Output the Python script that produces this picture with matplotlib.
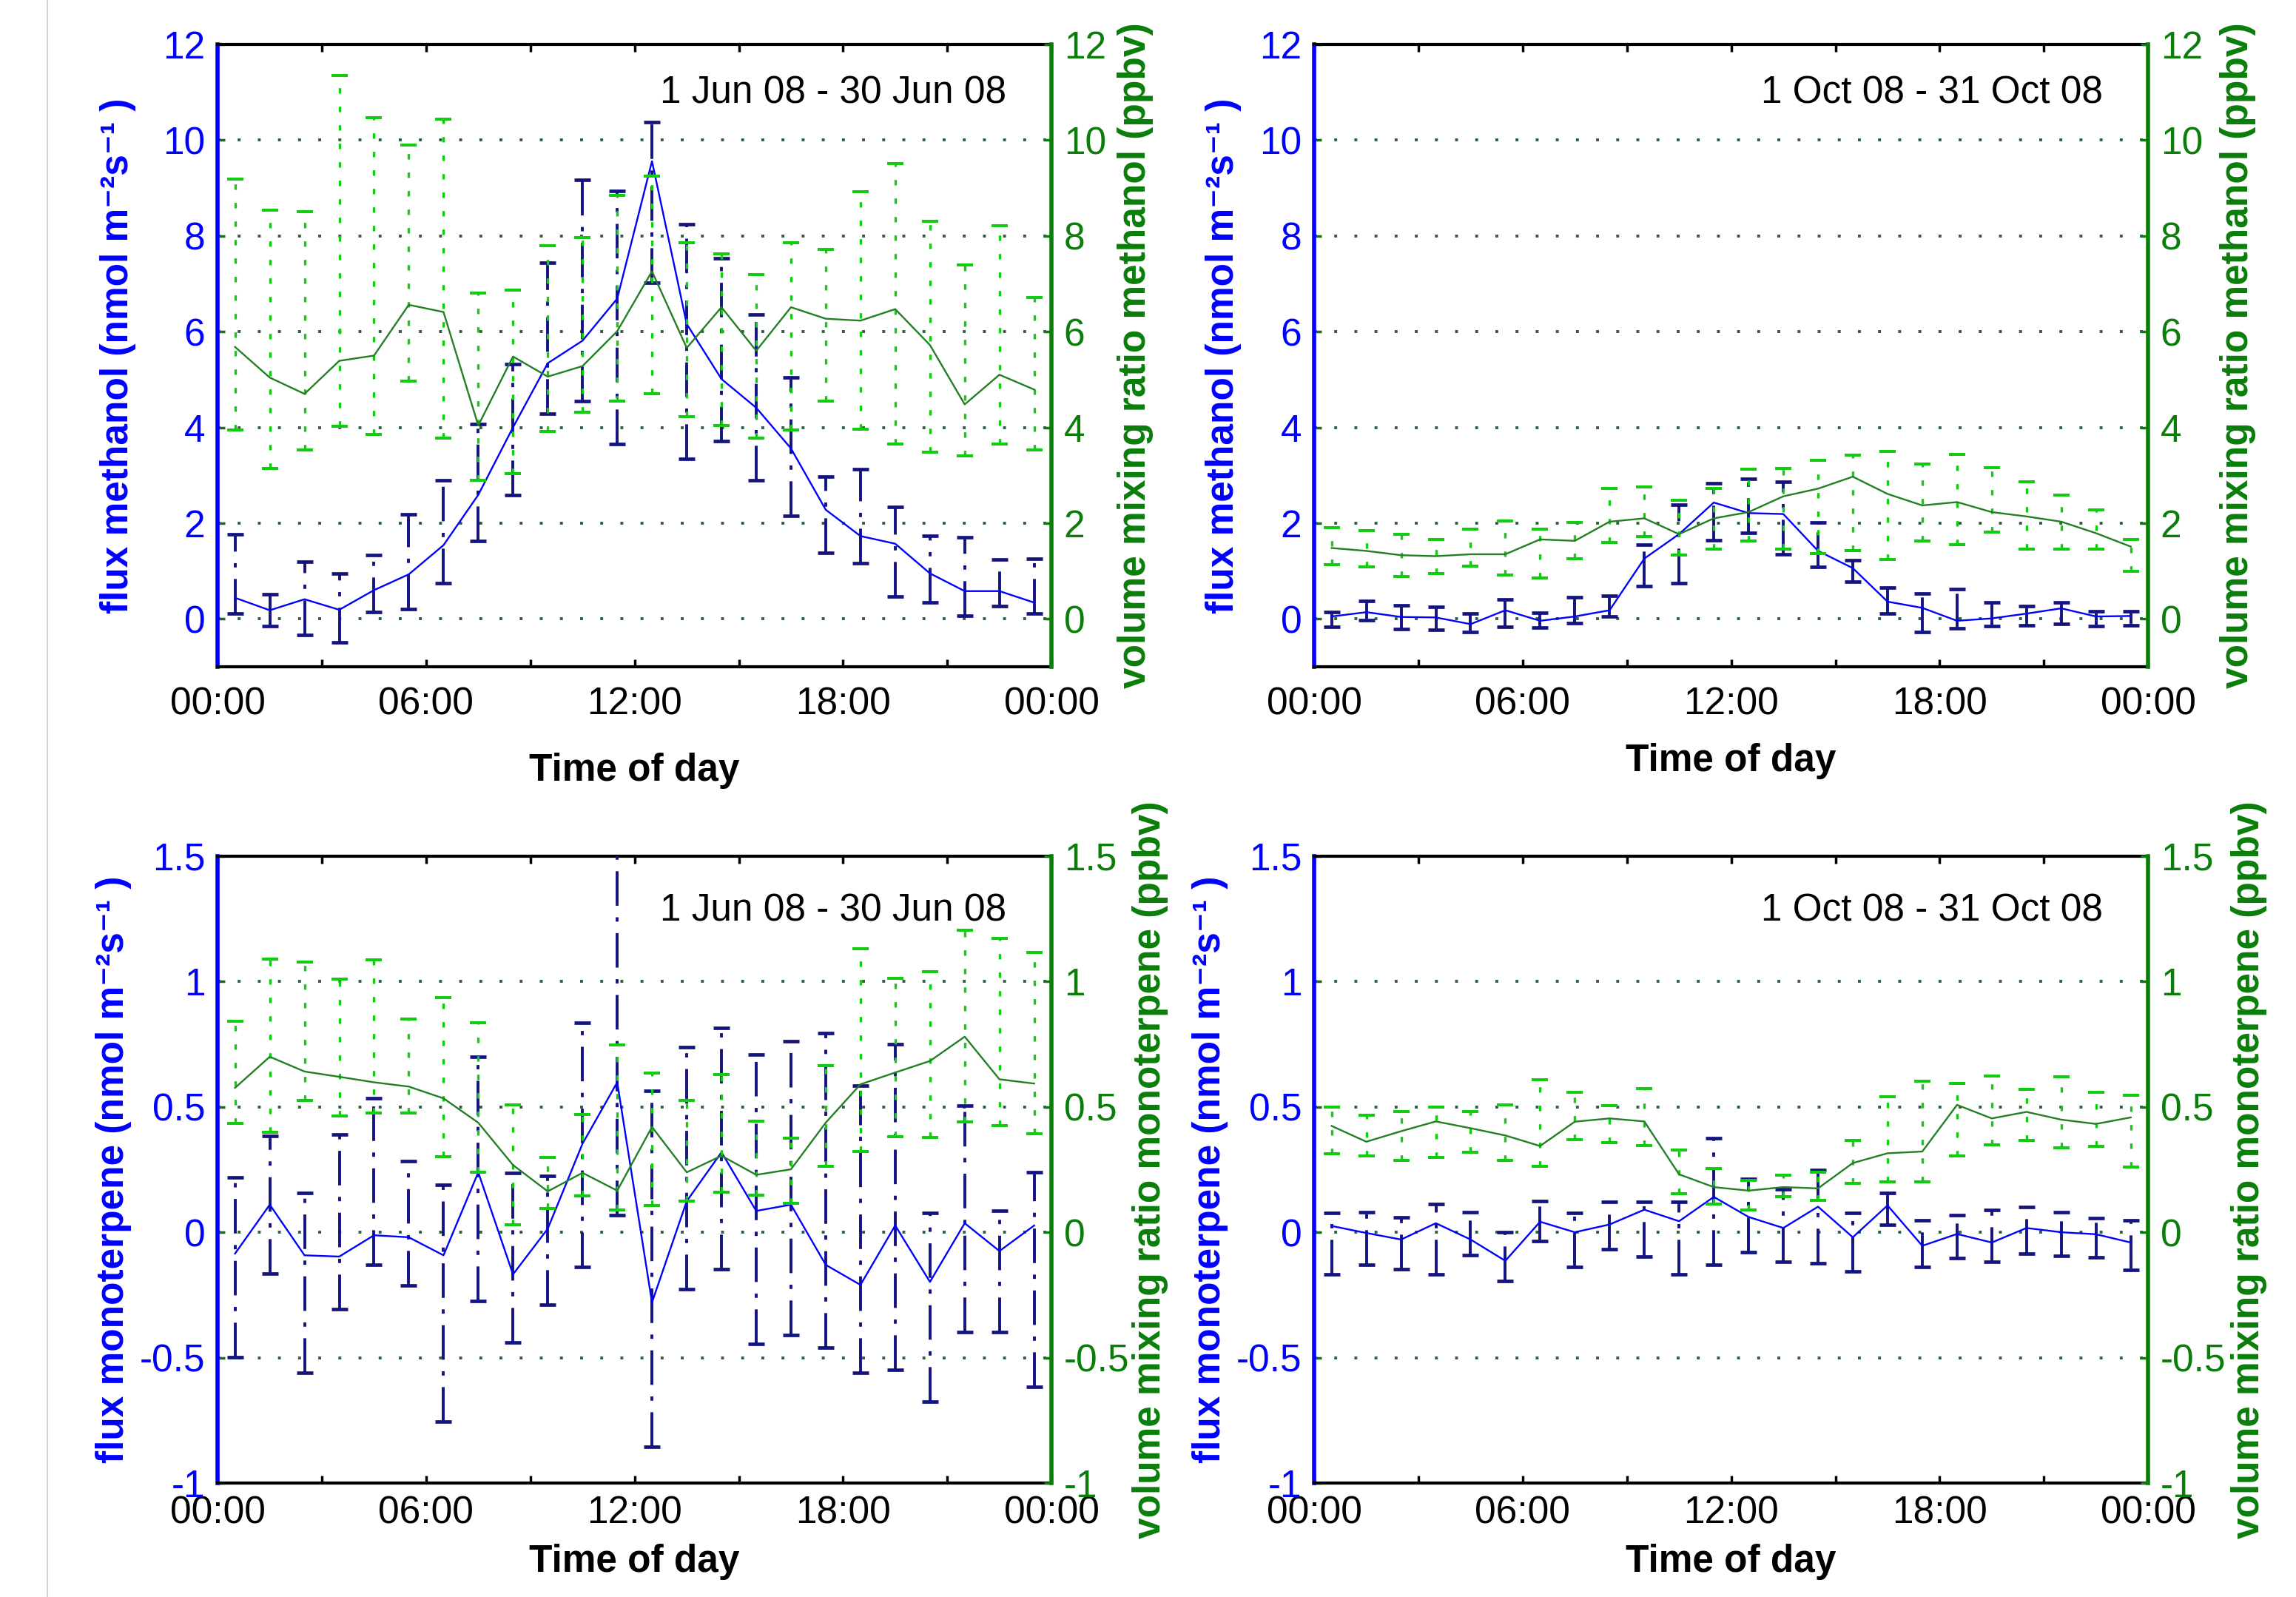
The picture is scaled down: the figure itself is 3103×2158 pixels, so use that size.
import numpy as np
import matplotlib
matplotlib.use("Agg")
import matplotlib.pyplot as plt
from matplotlib.lines import Line2D

plt.rcParams['font.family'] = ['Liberation Sans', 'DejaVu Sans']
plt.rcParams['axes.unicode_minus'] = False

# hour of day (bin centres)
hours = np.arange(24) + 0.5

# ---- methanol, June ----
flux_jun = [0.44, 0.18, 0.41, 0.19, 0.60, 0.93, 1.54, 2.59, 4.00, 5.34, 5.81, 6.69,
            9.56, 6.16, 5.01, 4.41, 3.56, 2.28, 1.73, 1.57, 0.95, 0.58, 0.58, 0.34]
flux_jun_hi = [1.77, 0.51, 1.20, 0.94, 1.33, 2.19, 2.89, 4.07, 5.32, 7.44, 9.17, 8.94,
               10.37, 8.25, 7.53, 6.36, 5.04, 2.97, 3.12, 2.34, 1.73, 1.70, 1.24, 1.26]
flux_jun_lo = [0.11, -0.15, -0.33, -0.49, 0.15, 0.20, 0.75, 1.62, 2.59, 4.29, 4.55, 3.65,
               7.02, 3.34, 3.72, 2.89, 2.16, 1.38, 1.17, 0.47, 0.34, 0.07, 0.27, 0.11]
vmr_jun = [5.68, 5.04, 4.70, 5.39, 5.50, 6.56, 6.41, 4.04, 5.48, 5.06, 5.28, 6.01,
           7.26, 5.66, 6.51, 5.60, 6.51, 6.27, 6.23, 6.47, 5.72, 4.48, 5.10, 4.79]
vmr_jun_hi = [9.18, 8.54, 8.50, 11.35, 10.47, 9.89, 10.44, 6.80, 6.87, 7.79, 7.97, 8.85,
              9.25, 7.86, 7.62, 7.19, 7.86, 7.72, 8.92, 9.51, 8.30, 7.40, 8.22, 6.72]
vmr_jun_lo = [3.95, 3.14, 3.53, 4.02, 3.85, 4.97, 3.78, 2.89, 3.03, 3.91, 4.32, 4.55,
              4.70, 4.22, 4.04, 3.78, 3.95, 4.55, 3.96, 3.66, 3.49, 3.40, 3.65, 3.53]

# ---- methanol, October ----
flux_oct = [0.05, 0.14, 0.04, 0.03, -0.11, 0.18, -0.04, 0.05, 0.18, 1.26, 1.77, 2.43,
            2.21, 2.19, 1.42, 1.06, 0.36, 0.23, -0.04, 0.01, 0.11, 0.22, 0.05, 0.06]
flux_oct_hi = [0.14, 0.38, 0.29, 0.25, 0.11, 0.40, 0.13, 0.45, 0.49, 1.55, 2.38, 2.83,
               2.92, 2.87, 2.01, 1.22, 0.66, 0.53, 0.63, 0.34, 0.27, 0.34, 0.16, 0.16]
flux_oct_lo = [-0.17, -0.02, -0.21, -0.22, -0.28, -0.17, -0.18, -0.09, 0.05, 0.69, 0.75, 1.64,
               1.79, 1.35, 1.09, 0.78, 0.11, -0.28, -0.19, -0.15, -0.13, -0.11, -0.15, -0.13]
vmr_oct = [1.48, 1.42, 1.33, 1.31, 1.35, 1.35, 1.66, 1.63, 2.03, 2.10, 1.77, 2.10,
           2.23, 2.56, 2.72, 2.97, 2.61, 2.37, 2.44, 2.23, 2.14, 2.03, 1.79, 1.51]
vmr_oct_hi = [1.90, 1.85, 1.77, 1.66, 1.88, 2.04, 1.88, 2.01, 2.72, 2.76, 2.48, 2.72,
              3.12, 3.14, 3.32, 3.42, 3.50, 3.23, 3.44, 3.16, 2.87, 2.59, 2.28, 1.66]
vmr_oct_lo = [1.13, 1.09, 0.89, 0.94, 1.10, 0.91, 0.85, 1.26, 1.59, 1.72, 1.33, 1.46,
              1.62, 1.46, 1.37, 1.42, 1.24, 1.63, 1.55, 1.81, 1.46, 1.46, 1.46, 1.00]

# ---- monoterpene, June ----
flux_mt_jun = [-0.085, 0.11, -0.092, -0.097, -0.012, -0.02, -0.092, 0.239, -0.168, 0.014, 0.353, 0.598,
               -0.28, 0.124, 0.319, 0.085, 0.11, -0.13, -0.21, 0.027, -0.198, 0.036, -0.075, 0.027]
flux_mt_jun_hi = [0.22, 0.383, 0.158, 0.39, 0.536, 0.285, 0.19, 0.70, 0.237, 0.225, 0.836, 1.60,
                  0.564, 0.739, 0.815, 0.708, 0.763, 0.793, 0.586, 0.751, 0.078, 0.505, 0.085, 0.239]
flux_mt_jun_lo = [-0.498, -0.164, -0.559, -0.308, -0.13, -0.212, -0.754, -0.275, -0.44, -0.288, -0.139, 0.068,
                  -0.856, -0.227, -0.147, -0.444, -0.41, -0.461, -0.559, -0.549, -0.676, -0.398, -0.398, -0.617]
vmr_mt_jun = [0.576, 0.70, 0.641, 0.62, 0.598, 0.581, 0.534, 0.437, 0.268, 0.163, 0.237, 0.166,
              0.42, 0.239, 0.305, 0.229, 0.251, 0.437, 0.59, 0.637, 0.683, 0.78, 0.61, 0.593]
vmr_mt_jun_hi = [0.841, 1.09, 1.078, 1.01, 1.086, 0.849, 0.937, 0.836, 0.508, 0.298, 0.471, 0.747,
                 0.636, 0.527, 0.629, 0.442, 0.375, 0.663, 1.132, 1.014, 1.039, 1.205, 1.171, 1.115]
vmr_mt_jun_lo = [0.434, 0.40, 0.525, 0.463, 0.475, 0.476, 0.302, 0.239, 0.03, 0.095, 0.146, 0.09,
                 0.107, 0.124, 0.161, 0.149, 0.115, 0.264, 0.322, 0.381, 0.378, 0.441, 0.424, 0.392]

# ---- monoterpene, October ----
flux_mt_oct = [0.025, -0.003, -0.029, 0.036, -0.029, -0.114, 0.042, 0.0, 0.031, 0.09, 0.044, 0.141,
               0.061, 0.017, 0.102, -0.02, 0.107, -0.054, -0.007, -0.041, 0.017, 0.0, -0.008, -0.041]
flux_mt_oct_hi = [0.076, 0.081, 0.059, 0.112, 0.081, 0.0, 0.124, 0.076, 0.12, 0.12, 0.12, 0.375,
                  0.212, 0.171, 0.247, 0.076, 0.158, 0.047, 0.069, 0.09, 0.102, 0.081, 0.056, 0.047]
flux_mt_oct_lo = [-0.168, -0.13, -0.147, -0.169, -0.092, -0.193, -0.034, -0.139, -0.068, -0.097, -0.168, -0.13,
                  -0.08, -0.117, -0.125, -0.156, 0.031, -0.139, -0.102, -0.119, -0.085, -0.093, -0.1, -0.151]
vmr_mt_oct = [0.424, 0.361, 0.403, 0.442, 0.415, 0.386, 0.344, 0.441, 0.454, 0.442, 0.231, 0.18,
              0.166, 0.18, 0.175, 0.276, 0.315, 0.322, 0.508, 0.454, 0.48, 0.449, 0.432, 0.458]
vmr_mt_oct_hi = [0.5, 0.468, 0.48, 0.5, 0.48, 0.508, 0.607, 0.559, 0.505, 0.573, 0.327, 0.254,
                 0.208, 0.229, 0.239, 0.366, 0.539, 0.603, 0.593, 0.624, 0.569, 0.619, 0.559, 0.547]
vmr_mt_oct_lo = [0.314, 0.305, 0.288, 0.298, 0.319, 0.288, 0.263, 0.369, 0.356, 0.347, 0.153, 0.112,
                 0.09, 0.141, 0.127, 0.195, 0.2, 0.2, 0.305, 0.349, 0.366, 0.336, 0.344, 0.259]

xtick_pos = list(range(0, 25, 3))
xtick_lab = ['00:00', '', '06:00', '', '12:00', '', '18:00', '', '00:00']
meth_ticks = [0, 2, 4, 6, 8, 10, 12]
meth_labels = ['0', '2', '4', '6', '8', '10', '12']
mt_ticks = [-1, -0.5, 0, 0.5, 1, 1.5]
mt_labels = ['-1', '-0.5', '0', '0.5', '1', '1.5']

FS = 37
BLUE = '#0000ff'
NAVY = '#141480'
DKGREEN = '#0a7d0a'
LINEGREEN = '#237f23'
BRGREEN = '#11cc11'
GRIDC = '#2f5f3f'


def asym(mean, lo, hi):
    m = np.array(mean)
    return [np.clip(m - np.array(lo), 0, None), np.clip(np.array(hi) - m, 0, None)]


def panel(rect, flux, flo, fhi, vmr, vlo, vhi, ylim, ticks, tlabels, period,
          flabel, vlabel, lx, rx, xl_y, xpad, ty):
    ax = fig.add_axes(rect)
    ax2 = ax.twinx()
    for a in (ax, ax2):
        a.set_xlim(0, 24)
        a.set_ylim(*ylim)

    ax.set_axisbelow(True)
    ax.yaxis.grid(True, linestyle=(0, (1, 6)), color=GRIDC, linewidth=2.8)

    # flux: navy dash-dot error bars + blue mean line
    eb = ax.errorbar(hours, flux, yerr=asym(flux, flo, fhi), fmt='none', ecolor=NAVY,
                     elinewidth=2.8, capsize=8, capthick=3.4, zorder=3)
    eb[2][0].set_linestyle((0, (12, 4, 1.5, 4)))
    ax.plot(hours, flux, color=BLUE, lw=1.7, zorder=4)

    # mixing ratio: bright green dotted error bars + dark green mean line
    eb2 = ax2.errorbar(hours, vmr, yerr=asym(vmr, vlo, vhi), fmt='none', ecolor=BRGREEN,
                       elinewidth=2.4, capsize=8, capthick=2.9, zorder=3)
    eb2[2][0].set_linestyle((0, (2.2, 5.3)))
    ax2.plot(hours, vmr, color=LINEGREEN, lw=1.7, zorder=4)

    ax.set_xticks(xtick_pos)
    ax.set_xticklabels(xtick_lab)
    ax.tick_params(axis='x', direction='in', top=True, bottom=True, length=7, width=2.5,
                   color='black', labelsize=FS, pad=xpad)
    ax.set_yticks(ticks)
    ax.set_yticklabels(tlabels)
    ax.tick_params(axis='y', direction='in', length=7, width=2.5, color='#1e6b1e',
                   labelcolor=BLUE, labelsize=FS, pad=12)
    ax2.set_yticks(ticks)
    ax2.set_yticklabels(tlabels)
    ax2.tick_params(axis='y', direction='in', length=7, width=2.5, color=DKGREEN,
                    labelcolor=DKGREEN, labelsize=FS, pad=12)

    for s in ('top', 'bottom'):
        ax.spines[s].set_linewidth(3)
        ax.spines[s].set_color('black')
        ax2.spines[s].set_visible(False)
    ax.spines['right'].set_visible(False)
    ax2.spines['left'].set_visible(False)
    ax.spines['left'].set_color(BLUE)
    ax.spines['left'].set_linewidth(4)
    ax2.spines['right'].set_color(DKGREEN)
    ax2.spines['right'].set_linewidth(4)

    ax.set_ylabel(flabel, color=BLUE, fontsize=FS, fontweight='bold')
    ax.yaxis.set_label_coords(lx, 0.5)
    ax2.set_ylabel(vlabel, color=DKGREEN, fontsize=FS, fontweight='bold')
    ax2.yaxis.set_label_coords(rx, 0.5)
    ax.set_xlabel('Time of day', fontsize=FS, fontweight='bold')
    ax.xaxis.set_label_coords(0.5, xl_y)

    ax2.text(0.946, ty, period, transform=ax.transAxes, ha='right', va='center',
             fontsize=FS, color='black')
    return ax, ax2


fig = plt.figure(figsize=(31.03, 21.58), dpi=100)

lab_meth = 'flux methanol (nmol m\u207b\u00b2s\u207b\u00b9 )'
lab_meth_v = 'volume mixing ratio methanol (ppbv)'
lab_mt = 'flux monoterpene (nmol m\u207b\u00b2s\u207b\u00b9 )'
lab_mt_v = 'volume mixing ratio monoterpene (ppbv)'

panel([0.0948, 0.5825, 0.3632, 0.3897], flux_jun, flux_jun_lo, flux_jun_hi,
      vmr_jun, vmr_jun_lo, vmr_jun_hi, (-1, 12), meth_ticks, meth_labels,
      '1 Jun 08 - 30 Jun 08', lab_meth, lab_meth_v, -0.098, 1.079, -0.138, 19, 0.922)
panel([0.5724, 0.5825, 0.3632, 0.3897], flux_oct, flux_oct_lo, flux_oct_hi,
      vmr_oct, vmr_oct_lo, vmr_oct_hi, (-1, 12), meth_ticks, meth_labels,
      '1 Oct 08 - 31 Oct 08', lab_meth, lab_meth_v, -0.087, 1.086, -0.122, 19, 0.922)
panel([0.0948, 0.0714, 0.3632, 0.3925], flux_mt_jun, flux_mt_jun_lo, flux_mt_jun_hi,
      vmr_mt_jun, vmr_mt_jun_lo, vmr_mt_jun_hi, (-1, 1.5), mt_ticks, mt_labels,
      '1 Jun 08 - 30 Jun 08', lab_mt, lab_mt_v, -0.103, 1.097, -0.097, 12, 0.913)
panel([0.5724, 0.0714, 0.3632, 0.3925], flux_mt_oct, flux_mt_oct_lo, flux_mt_oct_hi,
      vmr_mt_oct, vmr_mt_oct_lo, vmr_mt_oct_hi, (-1, 1.5), mt_ticks, mt_labels,
      '1 Oct 08 - 31 Oct 08', lab_mt, lab_mt_v, -0.103, 1.099, -0.097, 12, 0.913)

# thin grey page edge at the left
fig.add_artist(Line2D([0.0206, 0.0206], [0, 1], transform=fig.transFigure,
                      color='#d4d4d4', lw=1.5))

fig.savefig('out.png', dpi=100)
